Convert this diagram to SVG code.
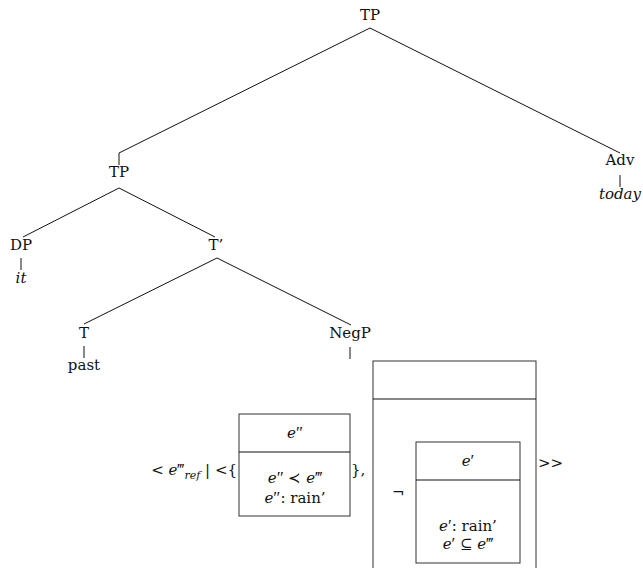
<svg xmlns="http://www.w3.org/2000/svg" width="643" height="568" viewBox="0 0 643 568">
<style>
text{font-family:"DejaVu Serif","Liberation Serif",serif;font-size:15px;fill:#111;}
.m{text-anchor:middle;}
.i{font-style:italic;}
.p{font-family:"Liberation Serif",serif;font-size:17px;}
.e{stroke:#111;stroke-width:1;fill:none;}
.b{stroke:#333;stroke-width:1;fill:#fff;}
</style>
<rect width="643" height="568" fill="#fff"/>
<g id="connectors">
<polyline class="e" points="370,28 119,153 119,165"/>
<line class="e" x1="370" y1="28" x2="620" y2="153"/>
<line class="e" x1="620" y1="175" x2="620" y2="187"/>
<line class="e" x1="119" y1="188" x2="23" y2="237"/>
<line class="e" x1="119" y1="188" x2="215" y2="237"/>
<line class="e" x1="21" y1="258" x2="21" y2="270"/>
<line class="e" x1="217" y1="258" x2="84" y2="324"/>
<line class="e" x1="217" y1="258" x2="351" y2="325"/>
<line class="e" x1="84" y1="346" x2="84" y2="358"/>
<line class="e" x1="350" y1="347" x2="350" y2="359"/>
</g>
<g id="TP"><text class="m" x="370" y="20">TP</text></g>
<g id="TP2"><text class="m" x="119" y="177">TP</text></g>
<g id="Adv"><text class="m" x="620" y="165">Adv</text></g>
<g id="today"><text class="m i" x="620" y="199">today</text></g>
<g id="DP"><text class="m" x="21" y="250">DP</text></g>
<g id="it"><text class="m i" x="21" y="283">it</text></g>
<g id="Tbar"><text class="m" x="216" y="250">T’</text></g>
<g id="T"><text class="m" x="84" y="338">T</text></g>
<g id="past"><text class="m" x="84" y="370">past</text></g>
<g id="NegP"><text class="m" x="350" y="338">NegP</text></g>
<g id="formula">
<text x="237" y="475" text-anchor="end">&lt; <tspan class="i">e</tspan><tspan class="p">‴</tspan><tspan class="i" font-size="11" dy="4">ref</tspan><tspan dy="-4"> | &lt;{</tspan></text>
<rect class="b" x="239" y="414" width="111" height="102"/>
<line class="e" x1="239" y1="452" x2="350" y2="452"/>
<text class="m" x="295" y="438"><tspan class="i">e</tspan><tspan class="p">″</tspan></text>
<text class="m" x="295" y="483"><tspan class="i">e</tspan><tspan class="p">″</tspan> ≺ <tspan class="i">e</tspan><tspan class="p">‴</tspan></text>
<text class="m" x="295" y="503"><tspan class="i">e</tspan><tspan class="p">″</tspan>: rain’</text>
<text x="351" y="475">},</text>
<rect class="b" x="373" y="361" width="163" height="220"/>
<line class="e" x1="373" y1="399" x2="536" y2="399"/>
<text x="392" y="497">¬</text>
<rect class="b" x="416" y="442" width="104" height="121"/>
<line class="e" x1="416" y1="480" x2="520" y2="480"/>
<text class="m" x="468" y="466"><tspan class="i">e</tspan><tspan class="p">′</tspan></text>
<text class="m" x="468" y="531"><tspan class="i">e</tspan><tspan class="p">′</tspan>: rain’</text>
<text class="m" x="468" y="549"><tspan class="i">e</tspan><tspan class="p">′</tspan> ⊆ <tspan class="i">e</tspan><tspan class="p">‴</tspan></text>
<text x="538" y="468">&gt;&gt;</text>
</g>
</svg>
